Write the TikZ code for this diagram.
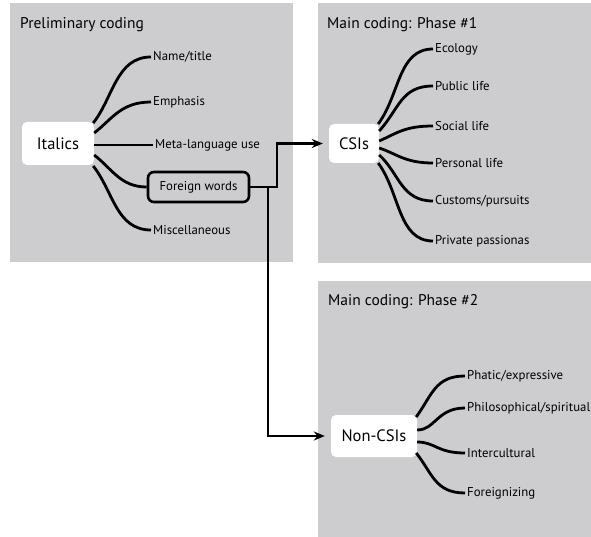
\documentclass[tikz,border=0pt]{standalone}
\usepackage{fontspec}
\setmainfont{PT Sans}
\usetikzlibrary{arrows.meta}
\definecolor{panel}{RGB}{205,205,208}
\begin{document}
\begin{tikzpicture}[x=1pt,y=-1pt,
  panelbox/.style={fill=panel,draw=none},
  paneltitle/.style={anchor=base west,inner sep=0pt,font=\fontsize{15.5}{18}\selectfont},
  hub/.style={fill=white,rounded corners=5pt,font=\fontsize{16.5}{19}\selectfont,inner sep=0pt},
  leaf/.style={anchor=west,inner xsep=2pt,inner ysep=0pt,font=\fontsize{12.8}{14}\selectfont},
  branch/.style={line width=2.8pt},
  arr/.style={line width=2.6pt,-{Stealth[length=11pt,width=9pt]},shorten >=6pt}]
\useasboundingbox (0,0) rectangle (591,537);
\clip (0,0) rectangle (591,537);
% panels
\fill[panelbox] (10,3) rectangle (293,262);
\fill[panelbox] (318,3) rectangle (591,263);
\fill[panelbox] (318,281) rectangle (591,537);
\node[paneltitle] (t1) at (20,29) {Preliminary coding};
\node[paneltitle] (t2) at (327,29) {Main coding: Phase \#1};
\node[paneltitle] (t3) at (328,305) {Main coding: Phase \#2};
% hubs
\node[hub,minimum width=72pt,minimum height=43pt] (it) at (58,143.5) {Italics};
\node[hub,minimum width=50pt,minimum height=39pt] (csi) at (354,143.5) {CSIs};
\node[hub,minimum width=86pt,minimum height=42pt] (nc) at (374,436) {Non-CSIs};
% preliminary leaves
\node[leaf] (n1) at (151,57) {Name/title};
\node[leaf] (n2) at (151,102) {Emphasis};
\node[leaf] (n3) at (153,145) {Meta-language use};
\node[draw,line width=2.6pt,rounded corners=6pt,fill=panel,minimum width=101pt,minimum height=30pt,inner sep=0pt,font=\fontsize{12.8}{14}\selectfont] (fw) at (198.5,187) {Foreign words};
\node[leaf] (n5) at (151,230) {Miscellaneous};
\draw[branch] ([xshift=-1pt,yshift=20.5pt]it.east) .. controls +(20,-25) and +(-35,0) .. (n1.west);
\draw[branch] ([yshift=10.5pt]it.east) .. controls +(18,-14) and +(-30,0) .. (n2.west);
\draw[branch] ([yshift=-1.5pt]it.east) -- (n3.west);
\draw[branch] ([yshift=-11.5pt]it.east) .. controls +(18,14) and +(-26,0) .. (fw.west);
\draw[branch] ([xshift=-1pt,yshift=-22.5pt]it.east) .. controls +(20,25) and +(-35,0) .. (n5.west);
% phase 1 leaves
\node[leaf] (c1) at (433,49) {Ecology};
\node[leaf] (c2) at (433,86) {Public life};
\node[leaf] (c3) at (433,126) {Social life};
\node[leaf] (c4) at (433,163) {Personal life};
\node[leaf] (c5) at (433,201) {Customs/pursuits};
\node[leaf] (c6) at (433,241) {Private passionas};
\draw[branch] ([xshift=-1pt,yshift=19.5pt]csi.east) .. controls +(22,-30) and +(-35,0) .. (c1.west);
\draw[branch] ([yshift=12.5pt]csi.east) .. controls +(20,-22) and +(-32,0) .. (c2.west);
\draw[branch] ([yshift=2.5pt]csi.east) .. controls +(18,-8) and +(-28,0) .. (c3.west);
\draw[branch] ([yshift=-4.5pt]csi.east) .. controls +(18,6) and +(-28,0) .. (c4.west);
\draw[branch] ([yshift=-11.5pt]csi.east) .. controls +(20,18) and +(-32,0) .. (c5.west);
\draw[branch] ([xshift=-1pt,yshift=-19.5pt]csi.east) .. controls +(22,30) and +(-35,0) .. (c6.west);
% phase 2 leaves
\node[leaf] (p1) at (465,376) {Phatic/expressive};
\node[leaf] (p2) at (465,408) {Philosophical/spiritual};
\node[leaf] (p3) at (465,453) {Intercultural};
\node[leaf] (p4) at (465,493) {Foreignizing};
\draw[branch] ([xshift=-1pt,yshift=19pt]nc.east) .. controls +(16,-22) and +(-30,0) .. (p1.west);
\draw[branch] ([yshift=6pt]nc.east) .. controls +(18,0) and +(-28,0) .. (p2.west);
\draw[branch] ([yshift=-6pt]nc.east) .. controls +(18,0) and +(-28,0) .. (p3.west);
\draw[branch] ([xshift=-1pt,yshift=-17pt]nc.east) .. controls +(16,20) and +(-30,0) .. (p4.west);
% connectors
\coordinate (j1) at (277,187);
\coordinate (j2) at (268,187);
\draw[arr] (fw.east) -- (j1) |- (csi.west);
\draw[arr] (j2) |- (nc.west);
\end{tikzpicture}
\end{document}
